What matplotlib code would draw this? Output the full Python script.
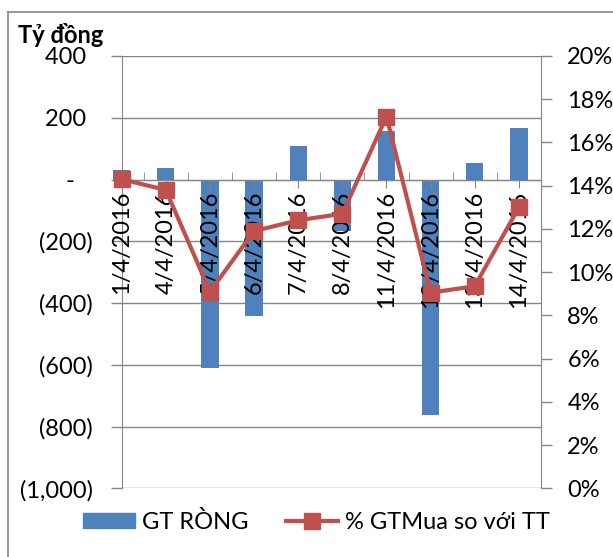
import matplotlib
matplotlib.use("Agg")
import matplotlib.pyplot as plt
from matplotlib.ticker import FuncFormatter, MultipleLocator, FixedLocator
from matplotlib.lines import Line2D
from matplotlib.patches import Patch

plt.rcParams['font.family'] = ['Lato', 'DejaVu Sans']

# data
dates = ['1/4/2016', '4/4/2016', '5/4/2016', '6/4/2016', '7/4/2016',
         '8/4/2016', '11/4/2016', '12/4/2016', '13/4/2016', '14/4/2016']
gt_rong = [32, 38, -611, -443, 108, -167, 157, -762, 52, 166]          # Tỷ đồng
pct_mua = [14.3, 13.8, 9.1, 11.9, 12.4, 12.7, 17.2, 9.05, 9.35, 13.0]  # %

blue = '#4F81BD'
red = '#C0504D'
gray = '#868686'
fs = 17

fig = plt.figure(figsize=(6.13, 5.57), dpi=100)
ax = fig.add_axes([0.1985, 0.1233, 0.684, 0.7762])
ax2 = ax.twinx()

x = list(range(len(dates)))

# bars on the left axis
ax.bar(x, gt_rong, width=0.39, color=blue, zorder=2, clip_on=False)
ax.set_xlim(0, 9.5)
ax.set_ylim(-1000, 400)
ax.yaxis.set_major_locator(MultipleLocator(200))
ax.grid(axis='y', color=gray, lw=1, zorder=0)
ax.set_axisbelow(True)


def left_fmt(v, pos):
    v = int(round(v))
    if v == 0:
        return '-   '
    if v < 0:
        return '({:,})'.format(-v)
    return '{:,} '.format(v)


ax.yaxis.set_major_formatter(FuncFormatter(left_fmt))
ax.tick_params(axis='y', length=8, width=1, color=gray, pad=13, labelsize=fs)

# category axis crosses at zero, labels drawn over the bars
ax.spines['bottom'].set_position(('data', 0))
for s in ['top', 'right']:
    ax.spines[s].set_visible(False)
for s in ['left', 'bottom']:
    ax.spines[s].set_color(gray)
ax.xaxis.set_major_locator(FixedLocator(x))
ax.set_xticklabels(dates, rotation=90, fontsize=fs)
ax.xaxis.set_minor_locator(FixedLocator([i + 0.5 for i in x[:-1]]))
ax.tick_params(axis='x', which='major', direction='out', length=6, color=gray, pad=2)
ax.tick_params(axis='x', which='minor', direction='in', length=6, color=gray)
ax.xaxis.set_zorder(3)
ax.spines['bottom'].set_zorder(3)

# line on the right axis
ax2.plot(x, pct_mua, color=red, lw=3, marker='s', markersize=11,
         clip_on=False, zorder=5)
ax2.set_ylim(0, 20)
ax2.yaxis.set_major_locator(MultipleLocator(2))
ax2.yaxis.set_major_formatter(FuncFormatter(lambda v, p: '{:.0f}%'.format(v)))
ax2.tick_params(axis='y', length=8, width=1, color=gray, pad=11, labelsize=fs)
for s in ['top', 'left', 'bottom']:
    ax2.spines[s].set_visible(False)
ax2.spines['right'].set_color(gray)

fig.text(0.03, 0.937, 'Tỷ đồng', fontsize=fs, fontweight='bold', va='center')

# chart frame
fig.add_artist(Line2D([0.013, 0.013], [0, 0.9785], color=gray, lw=1.2))
fig.add_artist(Line2D([0.013, 1], [0.9785, 0.9785], color=gray, lw=1.2))

handles = [Patch(color=blue),
           Line2D([], [], color=red, lw=3, marker='s', markersize=11)]
fig.legend(handles, ['GT RÒNG', '% GTMua so với TT'], ncol=2, frameon=False,
           loc='center', bbox_to_anchor=(0.516, 0.063), fontsize=fs,
           handlelength=2.2, handleheight=0.6, handletextpad=0.3,
           columnspacing=1.6)

fig.savefig('out.png', dpi=100)
